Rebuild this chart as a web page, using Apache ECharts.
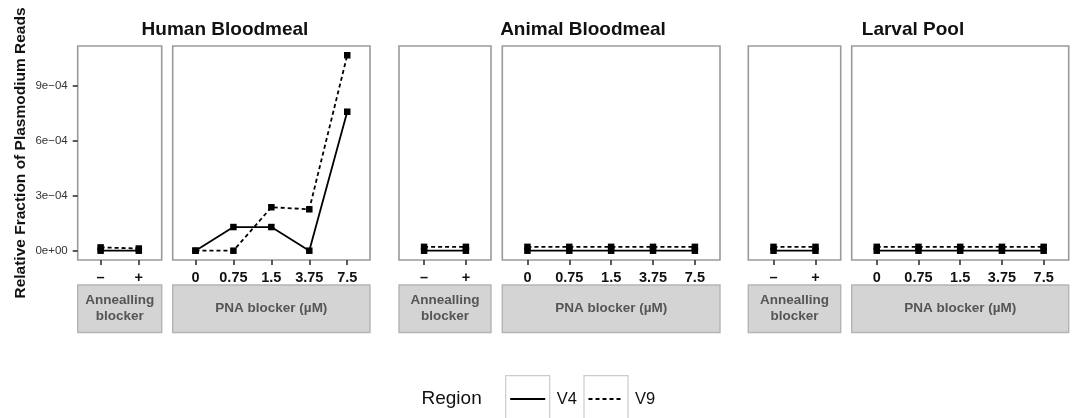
<!DOCTYPE html>
<html>
<head>
<meta charset="utf-8">
<script src="https://cdn.jsdelivr.net/npm/echarts@6/dist/echarts.min.js"></script>
<style>
  html, body { margin: 0; padding: 0; background: #fff; }
  #chart { width: 1072px; height: 418px; }
</style>
</head>
<body>
<div id="chart"></div>
<script>
// Facet groups and their x categories
const groupTitles = ['Human Bloodmeal', 'Animal Bloodmeal', 'Larval Pool'];
const annealCats = ['\u2013', '+'];
const pnaCats = ['0', '0.75', '1.5', '3.75', '7.5'];
const stripAnneal = 'Annealling\nblocker';
const stripPna = 'PNA blocker (\u00b5M)';
const regions = ['V4', 'V9'];

// Relative fraction of Plasmodium reads, per group / blocker / region
const humanAnnealV4 = [0, 0];
const humanAnnealV9 = [1.8e-5, 1.2e-5];
const humanPnaV4 = [0, 1.29e-4, 1.29e-4, 0, 7.58e-4];
const humanPnaV9 = [0, 0, 2.37e-4, 2.26e-4, 1.066e-3];

const animalAnnealV4 = [0, 0];
const animalAnnealV9 = [2.1e-5, 2.1e-5];
const animalPnaV4 = [0, 0, 0, 0, 0];
const animalPnaV9 = [2.1e-5, 2.1e-5, 2.1e-5, 2.1e-5, 2.1e-5];

const larvalAnnealV4 = [0, 0];
const larvalAnnealV9 = [2.1e-5, 2.1e-5];
const larvalPnaV4 = [0, 0, 0, 0, 0];
const larvalPnaV9 = [2.1e-5, 2.1e-5, 2.1e-5, 2.1e-5, 2.1e-5];

// y axis
const yTicks = [0, 3e-4, 6e-4, 9e-4];
const yTickLabels = ['0e+00', '3e\u221204', '6e\u221204', '9e\u221204'];
const yTitle = 'Relative Fraction of Plasmodium Reads';
const yMin = -5.07e-5;
const yMax = 1.1165e-3;

// panel layout (pixels)
const PANEL_TOP = 46, PANEL_BOTTOM = 260;
const STRIP_TOP = 285, STRIP_BOTTOM = 332.5;
const panels = [
  { cats: annealCats, strip: stripAnneal, v4: humanAnnealV4, v9: humanAnnealV9, x0: 77.7, x1: 161.7 },
  { cats: pnaCats, strip: stripPna, v4: humanPnaV4, v9: humanPnaV9, x0: 172.7, x1: 370 },
  { cats: annealCats, strip: stripAnneal, v4: animalAnnealV4, v9: animalAnnealV9, x0: 399, x1: 491 },
  { cats: pnaCats, strip: stripPna, v4: animalPnaV4, v9: animalPnaV9, x0: 502.3, x1: 720 },
  { cats: annealCats, strip: stripAnneal, v4: larvalAnnealV4, v9: larvalAnnealV9, x0: 748.3, x1: 840.7 },
  { cats: pnaCats, strip: stripPna, v4: larvalPnaV4, v9: larvalPnaV9, x0: 851.7, x1: 1068.7 }
];
const titleCenters = [220, 578, 908];

const FONT = '"Liberation Sans", Arial, Helvetica, sans-serif';

const grids = [], xAxes = [], yAxes = [], series = [], graphics = [];

panels.forEach((p, i) => {
  const n = p.cats.length;
  const idx = p.cats.map((_, k) => k + 1);
  grids.push({
    left: p.x0, top: PANEL_TOP, width: p.x1 - p.x0, height: PANEL_BOTTOM - PANEL_TOP,
    show: true, backgroundColor: '#fff', borderColor: '#9a9a9a', borderWidth: 1.6
  });
  xAxes.push({
    type: 'value', gridIndex: i, min: 0.4, max: n + 0.6, position: 'bottom',
    axisLine: { show: false, onZero: false }, splitLine: { show: false },
    axisTick: { show: true, customValues: idx, length: 5, lineStyle: { color: '#333', width: 1.6 } },
    axisLabel: {
      customValues: idx, margin: 10,
      formatter: v => p.cats[Math.round(v) - 1],
      fontFamily: FONT, fontWeight: 'bold', fontSize: 14.5, color: '#111'
    }
  });
  const first = i === 0;
  yAxes.push({
    type: 'value', gridIndex: i, min: yMin, max: yMax, position: 'left',
    axisLine: { show: false, onZero: false }, splitLine: { show: false },
    axisTick: { show: first, customValues: yTicks, length: 5, lineStyle: { color: '#333', width: 1.6 } },
    axisLabel: {
      show: first, customValues: yTicks, margin: 10,
      formatter: v => {
        let best = 0;
        yTicks.forEach((t, k) => { if (Math.abs(t - v) < Math.abs(yTicks[best] - v)) best = k; });
        return yTickLabels[best];
      },
      fontFamily: FONT, fontSize: 11.5, color: '#333'
    },
    name: first ? yTitle : '',
    nameLocation: 'middle', nameRotate: 90, nameGap: 49,
    nameTextStyle: { fontFamily: FONT, fontWeight: 'bold', fontSize: 15.5, color: '#111' }
  });
  [['V4', p.v4, 'solid'], ['V9', p.v9, [4, 3]]].forEach(([nm, vals, dash]) => {
    series.push({
      name: nm, type: 'line', xAxisIndex: i, yAxisIndex: i,
      data: vals.map((v, k) => [k + 1, v]),
      symbol: 'rect', symbolSize: 6.5, showSymbol: true,
      itemStyle: { color: '#000' },
      lineStyle: { color: '#000', width: 1.8, type: dash },
      emphasis: { disabled: true }, silent: true
    });
  });
  // strip below panel
  graphics.push({
    type: 'rect', z: 10,
    shape: { x: p.x0, y: STRIP_TOP, width: p.x1 - p.x0, height: STRIP_BOTTOM - STRIP_TOP },
    style: { fill: '#d4d4d4', stroke: '#b4b4b4', lineWidth: 1.4 }
  });
  graphics.push({
    type: 'text', z: 11,
    x: (p.x0 + p.x1) / 2, y: (STRIP_TOP + STRIP_BOTTOM) / 2,
    style: {
      text: p.strip, align: 'center', verticalAlign: 'middle', lineHeight: 16,
      font: 'bold 13.5px ' + FONT, fill: '#555'
    }
  });
});

// legend: "Region" with boxed keys
const LEG_Y = 399;
graphics.push({ type: 'text', x: 421.5, y: LEG_Y, style: { text: 'Region', verticalAlign: 'middle', font: '19px ' + FONT, fill: '#111' } });
const keyBoxes = [505.7, 584];
regions.forEach((r, k) => {
  const bx = keyBoxes[k];
  graphics.push({ type: 'rect', shape: { x: bx, y: 375.7, width: 44, height: 60 }, style: { fill: '#fff', stroke: '#cccccc', lineWidth: 1.2 } });
  graphics.push({
    type: 'line', shape: { x1: bx + 4.5, y1: LEG_Y, x2: bx + 39.5, y2: LEG_Y },
    style: { stroke: '#000', lineWidth: 1.8, lineDash: k === 0 ? null : [4, 3] }
  });
  graphics.push({ type: 'text', x: bx + 51, y: LEG_Y, style: { text: r, verticalAlign: 'middle', font: '16.5px ' + FONT, fill: '#111' } });
});

const chart = echarts.init(document.getElementById('chart'), null, { renderer: 'canvas' });
chart.setOption({
  animation: false,
  backgroundColor: '#fff',
  title: groupTitles.map((t, k) => ({
    text: t, left: titleCenters[k], top: 15, textAlign: 'center',
    textStyle: { fontFamily: FONT, fontWeight: 'bold', fontSize: 19, color: '#111' }
  })),
  grid: grids,
  xAxis: xAxes,
  yAxis: yAxes,
  series: series,
  graphic: graphics
});
</script>
</body>
</html>
